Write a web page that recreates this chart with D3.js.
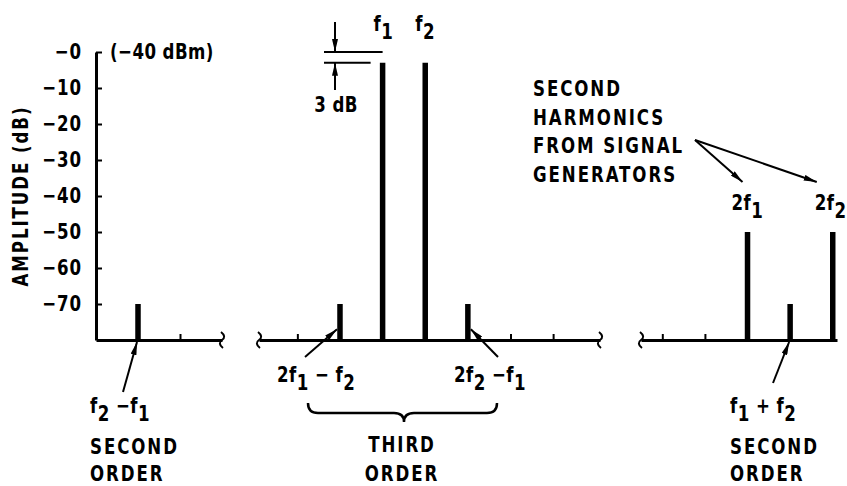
<!DOCTYPE html>
<html>
<head>
<meta charset="utf-8">
<script src="https://cdn.jsdelivr.net/npm/d3@7"></script>
<style>
body { margin: 0; background: #fff; }
svg text {
    font-family: "Liberation Sans Narrow", "DejaVu Sans Condensed", "DejaVu Sans", sans-serif;
    font-size: 21px;
    font-weight: bold;
    letter-spacing: 2.2px;
    fill: #000;
}
svg text.formula { letter-spacing: 0.5px; }
</style>
</head>
<body>
<svg id="chart" width="847" height="486"></svg>
<script>
// amplitude axis
const yTicks = [0, -10, -20, -30, -40, -50, -60, -70];
const yTickLabels = ["−0", "−10", "−20", "−30", "−40", "−50", "−60", "−70"];

// frequencies in units of (f2 - f1), taking f1 = 10, f2 = 11
const spikeNames = ["f2-f1", "2f1-f2", "f1", "f2", "2f2-f1", "2f1", "f1+f2", "2f2"];
const spikeFreq = [1, 9, 10, 11, 12, 20, 21, 22];
const spikeLevel = [-70, -70, -3, -3, -70, -50, -70, -50];

// broken frequency axis: three pieces, with their own tick marks
const segments = [[0, 3], [7.1, 15.1], [17.5, 22.1]];
const segmentTicks = [[1, 2], [8, 13, 14], [18, 19]];

const SX = 0.88; // squeeze text horizontally, the original face is condensed

const svg = d3.select("#chart");

const xScale = d3.scaleLinear()
    .domain([0, 3, 7.1, 15.1, 17.5, 22.1])
    .range([96, 222, 259, 600, 641, 837]);

const yScale = d3.scaleLinear()
    .domain([-80, 0])
    .range([340, 52]);

const base = yScale(-80);

svg.append("defs").append("marker")
    .attr("id", "ah")
    .attr("viewBox", "0 0 13 6")
    .attr("refX", 13)
    .attr("refY", 3)
    .attr("markerWidth", 13)
    .attr("markerHeight", 6)
    .attr("markerUnits", "userSpaceOnUse")
    .attr("orient", "auto")
    .append("path")
    .attr("d", "M0,0L13,3L0,6Z")
    .attr("fill", "#000");

// y axis, ticks pointing inward
const yAxis = svg.append("g")
    .attr("class", "axis y-axis")
    .attr("transform", `translate(${xScale(0)},0)`)
    .call(d3.axisLeft(yScale)
        .tickValues(yTicks)
        .tickSizeInner(-6)
        .tickSizeOuter(0)
        .tickPadding(14)
        .tickFormat((d, i) => yTickLabels[i]));

yAxis.select(".domain").attr("stroke-width", 3);
yAxis.selectAll(".tick line").attr("stroke-width", 2);
yAxis.selectAll(".tick text")
    .attr("x", -14 / SX)
    .attr("transform", `scale(${SX},1)`)
    .style("letter-spacing", "1px");

svg.append("text")
    .attr("transform", `translate(28,196) rotate(-90) scale(${SX},1)`)
    .style("text-anchor", "middle")
    .text("AMPLITUDE (dB)");

// x axis pieces
segments.forEach((seg, i) => {
    const s = d3.scaleLinear().domain(seg).range([xScale(seg[0]), xScale(seg[1])]);
    const g = svg.append("g")
        .attr("class", "axis x-axis")
        .attr("transform", `translate(0,${base})`)
        .call(d3.axisBottom(s)
            .tickValues(segmentTicks[i])
            .tickSizeInner(-6)
            .tickSizeOuter(0)
            .tickFormat(""));
    g.select(".domain").attr("stroke-width", 3);
    g.selectAll(".tick line").attr("stroke-width", 2);

    // break marks
    const ends = [];
    if (i > 0) ends.push(xScale(seg[0]));
    if (i < segments.length - 1) ends.push(xScale(seg[1]));
    ends.forEach(bx => {
        svg.append("path")
            .attr("d", `M${bx - 1},${base - 8} C${bx + 3},${base - 5} ${bx + 3},${base - 2} ${bx},${base} C${bx - 3},${base + 2} ${bx - 3},${base + 5} ${bx + 1},${base + 8}`)
            .attr("fill", "none")
            .attr("stroke", "#000")
            .attr("stroke-width", 2);
    });
});

// spectral lines
svg.selectAll(".spike")
    .data(spikeFreq)
    .enter().append("line")
    .attr("class", "spike")
    .attr("x1", d => xScale(d))
    .attr("x2", d => xScale(d))
    .attr("y1", base)
    .attr("y2", (d, i) => yScale(spikeLevel[i]))
    .attr("stroke", "#000")
    .attr("stroke-width", 5.5);

// text with subscripts: parts are [text, isSub]
function label(x, y, parts, anchor, cls) {
    const t = svg.append("text")
        .attr("class", cls || null)
        .attr("transform", `translate(${x},${y}) scale(${SX},1)`)
        .style("text-anchor", anchor || "start");
    let sub = false;
    parts.forEach(p => {
        const ts = t.append("tspan").text(p[0]);
        if (p[1] && !sub) ts.attr("dy", 8);
        if (!p[1] && sub) ts.attr("dy", -8);
        sub = p[1];
    });
    return t;
}

label(110, yScale(0) + 7, [["(−40 dBm)", 0]], "start", "formula");

// 3 dB marker
svg.append("line").attr("x1", 324).attr("x2", xScale(10)).attr("y1", yScale(0)).attr("y2", yScale(0))
    .attr("stroke", "#000").attr("stroke-width", 2);
svg.append("line").attr("x1", 324).attr("x2", xScale(10) - 12).attr("y1", yScale(-3)).attr("y2", yScale(-3))
    .attr("stroke", "#000").attr("stroke-width", 2);
label(336, 112, [["3 dB", 0]], "middle", "formula");

label(xScale(10) - 9, 31, [["f", 0], ["1", 1]], "start", "formula");
label(xScale(11) - 10, 31, [["f", 0], ["2", 1]], "start", "formula");

["SECOND", "HARMONICS", "FROM SIGNAL", "GENERATORS"].forEach((s, i) => {
    label(533, 96 + i * 28.5, [[s, 0]]);
});

label(xScale(20) - 16, 210, [["2f", 0], ["1", 1]], "start", "formula");
label(xScale(22) - 18, 210, [["2f", 0], ["2", 1]], "start", "formula");

label(277, 382, [["2f", 0], ["1", 1], [" − f", 0], ["2", 1]], "start", "formula");
label(454, 382, [["2f", 0], ["2", 1], [" −f", 0], ["1", 1]], "start", "formula");

label(90, 413, [["f", 0], ["2", 1], [" −f", 0], ["1", 1]], "start", "formula");
label(90, 454, [["SECOND", 0]]);
label(90, 481, [["ORDER", 0]]);

label(730, 413, [["f", 0], ["1", 1], [" + f", 0], ["2", 1]], "start", "formula");
label(730, 454, [["SECOND", 0]]);
label(730, 481, [["ORDER", 0]]);

label(402, 452, [["THIRD", 0]], "middle");
label(402, 481, [["ORDER", 0]], "middle");

// brace under the third order products
svg.append("path")
    .attr("d", "M308,403 Q308,413 318,413 L394,413 Q404,413 404,422 Q404,413 414,413 L487,413 Q497,413 497,403")
    .attr("fill", "none")
    .attr("stroke", "#000")
    .attr("stroke-width", 2.5);

// arrows
const arrows = [
    [335, 22, 335, yScale(0)],
    [335, 90, 335, yScale(-3)],
    [123, 392, xScale(1) - 1, base + 2],
    [305, 357, xScale(9) - 3, yScale(-77)],
    [498, 357, xScale(12) + 3, yScale(-77)],
    [773, 383, xScale(21) - 1, base + 2],
    [695, 140, xScale(20) - 5, 182],
    [695, 140, xScale(22) - 16, 182]
];

svg.selectAll(".arrow")
    .data(arrows)
    .enter().append("line")
    .attr("class", "arrow")
    .attr("x1", d => d[0])
    .attr("y1", d => d[1])
    .attr("x2", d => d[2])
    .attr("y2", d => d[3])
    .attr("stroke", "#000")
    .attr("stroke-width", 2)
    .attr("marker-end", "url(#ah)");
</script>
</body>
</html>
